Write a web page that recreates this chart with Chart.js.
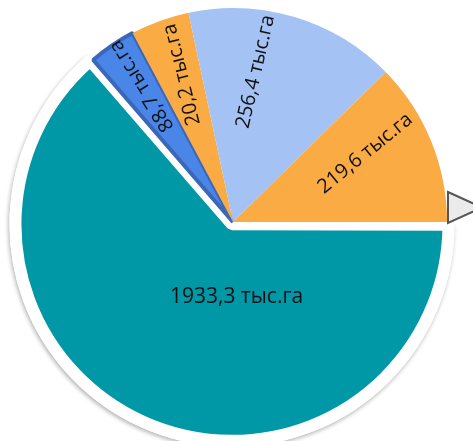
<!DOCTYPE html>
<html>
<head>
<meta charset="utf-8">
<script src="https://cdn.jsdelivr.net/npm/chart.js@4"></script>
<style>
  html, body { margin: 0; padding: 0; background: #fff; }
  #contenedor { width: 473px; height: 441px; position: relative; }
</style>
</head>
<body>
<div id="contenedor"><canvas id="grafico"></canvas></div>
<script>
// Площади (тыс. га) — подписи секторов, по часовой стрелке от 3 часов
const areas = [1933.3, 88.7, 20.2, 256.4, 219.6];
// Угол каждого сектора, как он нарисован на картинке (градусы)
const sectores = [229.2, 12.8, 16.0, 57.5, 44.5];
const colores = ["#0097a7", "#4a86e8", "#fbab44", "#a4c2f4", "#fbab44"];

// Размещение подписей: направление и расстояние от центра, поворот текста
const etiquetaAngulo = [87.3, -123.8, -109.1, -81.4, -27.4];
const etiquetaDistancia = [75, 164, 156, 152, 149];
const etiquetaGiro = [0, -122, -104, -77, -39];

const aRad = (g) => g * Math.PI / 180;
const textoArea = (v) => `${v.toFixed(1).replace(".", ",")} тыс.га`;

// Тень только под большим сектором: рисуем его элемент ещё раз с тенью под обычной отрисовкой
const pluginSombra = {
  id: "sombra",
  beforeDatasetsDraw(chart) {
    const arco = chart.getDatasetMeta(0).data[0];
    const { ctx } = chart;
    ctx.save();
    ctx.shadowColor = "rgba(0,0,0,.30)";
    ctx.shadowBlur = 4;
    ctx.shadowOffsetX = -1;
    ctx.shadowOffsetY = 2;
    arco.draw(ctx);
    ctx.restore();
  },
};

const pluginEtiquetas = {
  id: "etiquetas",
  afterDatasetsDraw(chart) {
    const { ctx } = chart;
    const arcos = chart.getDatasetMeta(0).data;
    ctx.save();
    ctx.fillStyle = "#111";
    ctx.textAlign = "center";
    ctx.textBaseline = "middle";
    arcos.forEach((arco, i) => {
      const ang = aRad(etiquetaAngulo[i]);
      ctx.font = i === 0 ? '21px "Open Sans"' : '20px "Open Sans"';
      ctx.save();
      ctx.translate(arco.x + Math.cos(ang) * etiquetaDistancia[i], arco.y + Math.sin(ang) * etiquetaDistancia[i]);
      ctx.rotate(aRad(etiquetaGiro[i]));
      ctx.fillText(textoArea(areas[i]), 0, 0);
      ctx.restore();
    });
    ctx.restore();
  },
};

// Флажок-стрелка у правого края (обрезан краем слайда)
const pluginFlecha = {
  id: "flecha",
  afterDraw(chart) {
    const { ctx, width } = chart;
    const x0 = width - 25;
    ctx.save();
    ctx.beginPath();
    ctx.moveTo(x0, 192);
    ctx.lineTo(x0 + 34, 207.5);
    ctx.lineTo(x0, 223);
    ctx.closePath();
    ctx.fillStyle = "#ebebeb";
    ctx.fill();
    ctx.lineWidth = 2;
    ctx.strokeStyle = "#555";
    ctx.stroke();
    ctx.restore();
  },
};

new Chart(document.querySelector("#grafico"), {
  type: "pie",
  data: {
    labels: areas.map(textoArea),
    datasets: [{
      data: sectores,
      backgroundColor: colores,
      borderColor: ["#ffffff", "#3a67b8", "#fbab44", "#a4c2f4", "#fbab44"],
      borderWidth: [12, 4, 0, 0, 0],
      offset: [10, 0, 0, 0, 0],
    }],
  },
  options: {
    responsive: true,
    maintainAspectRatio: false,
    animation: false,
    events: [],
    rotation: 90,
    radius: 214,
    layout: { padding: { left: 0, right: 7, top: 3, bottom: 0 } },
    plugins: { legend: { display: false }, tooltip: { enabled: false } },
  },
  plugins: [pluginSombra, pluginEtiquetas, pluginFlecha],
});
</script>
</body>
</html>
